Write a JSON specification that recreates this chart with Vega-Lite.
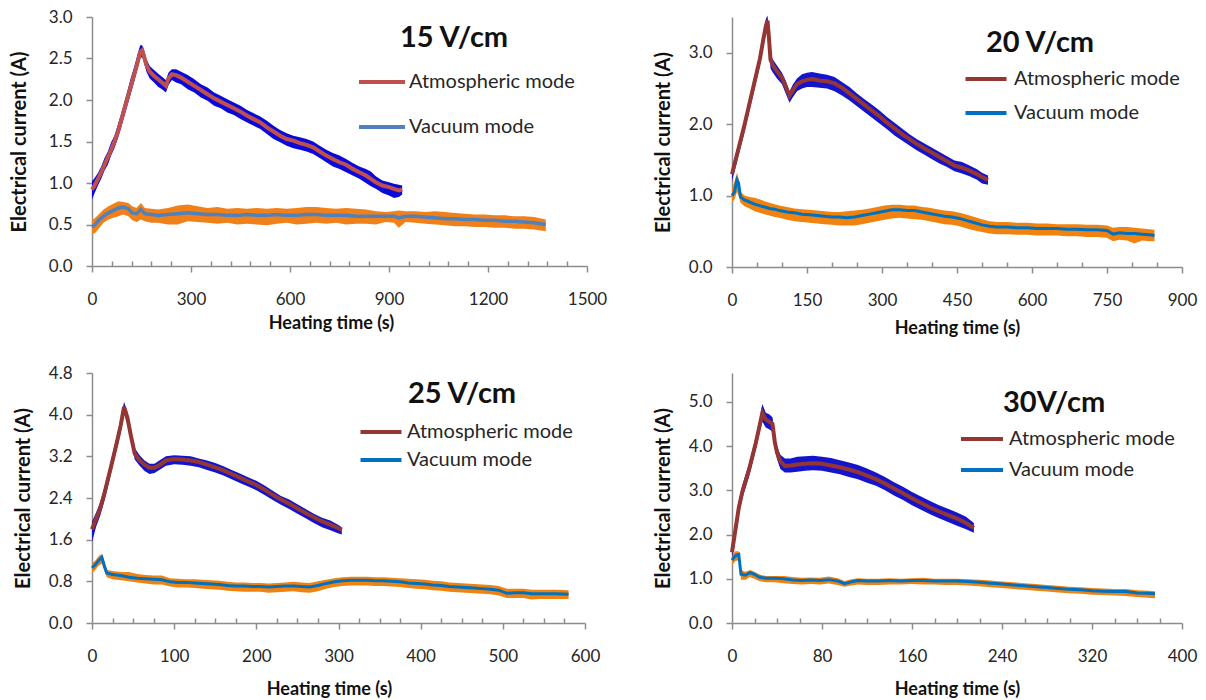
{
  "$schema": "https://vega.github.io/schema/vega-lite/v6.json",
  "background": "white",
  "padding": {"left": 9, "top": 8, "right": 5, "bottom": 0},
  "columns": 2,
  "spacing": {"row": 106, "column": 145},
  "bounds": "flush",
  "resolve": {
    "scale": {"x": "independent", "y": "independent", "color": "independent"},
    "axis": {"x": "independent", "y": "independent"},
    "legend": {"color": "independent"}
  },
  "datasets": {
    "a15": [
      {"t":0,"i":0.92,"lo":0.80,"hi":1.02},{"t":8,"i":0.97,"lo":0.88,"hi":1.06},{"t":18,"i":1.05,"lo":0.97,"hi":1.12},
      {"t":28,"i":1.13,"lo":1.05,"hi":1.20},{"t":38,"i":1.22,"lo":1.15,"hi":1.30},{"t":48,"i":1.31,"lo":1.22,"hi":1.38},
      {"t":58,"i":1.40,"lo":1.33,"hi":1.49},{"t":68,"i":1.50,"lo":1.42,"hi":1.57},{"t":78,"i":1.61,"lo":1.53,"hi":1.70},
      {"t":88,"i":1.75,"lo":1.66,"hi":1.83},{"t":98,"i":1.89,"lo":1.80,"hi":1.98},{"t":108,"i":2.03,"lo":1.94,"hi":2.12},
      {"t":118,"i":2.17,"lo":2.08,"hi":2.27},{"t":128,"i":2.31,"lo":2.22,"hi":2.40},{"t":138,"i":2.45,"lo":2.37,"hi":2.55},
      {"t":146,"i":2.58,"lo":2.50,"hi":2.66},{"t":152,"i":2.60,"lo":2.52,"hi":2.66},{"t":158,"i":2.52,"lo":2.44,"hi":2.60},
      {"t":165,"i":2.42,"lo":2.34,"hi":2.49},{"t":175,"i":2.34,"lo":2.26,"hi":2.41},{"t":188,"i":2.29,"lo":2.21,"hi":2.36},
      {"t":200,"i":2.25,"lo":2.16,"hi":2.32},{"t":212,"i":2.21,"lo":2.13,"hi":2.28},{"t":224,"i":2.17,"lo":2.09,"hi":2.24},
      {"t":232,"i":2.26,"lo":2.18,"hi":2.33},{"t":242,"i":2.31,"lo":2.24,"hi":2.37},{"t":255,"i":2.30,"lo":2.21,"hi":2.37},
      {"t":270,"i":2.27,"lo":2.19,"hi":2.34},{"t":290,"i":2.22,"lo":2.13,"hi":2.30},{"t":310,"i":2.17,"lo":2.09,"hi":2.25},
      {"t":330,"i":2.12,"lo":2.03,"hi":2.19},{"t":350,"i":2.07,"lo":1.99,"hi":2.15},{"t":370,"i":2.02,"lo":1.93,"hi":2.09},
      {"t":390,"i":1.98,"lo":1.90,"hi":2.05},{"t":410,"i":1.94,"lo":1.85,"hi":2.01},{"t":430,"i":1.90,"lo":1.82,"hi":1.97},
      {"t":450,"i":1.86,"lo":1.77,"hi":1.93},{"t":470,"i":1.81,"lo":1.73,"hi":1.88},{"t":490,"i":1.77,"lo":1.69,"hi":1.84},
      {"t":510,"i":1.73,"lo":1.65,"hi":1.80},{"t":530,"i":1.67,"lo":1.59,"hi":1.75},{"t":550,"i":1.62,"lo":1.53,"hi":1.69},
      {"t":570,"i":1.57,"lo":1.49,"hi":1.64},{"t":590,"i":1.53,"lo":1.45,"hi":1.60},{"t":610,"i":1.51,"lo":1.42,"hi":1.57},
      {"t":630,"i":1.48,"lo":1.40,"hi":1.55},{"t":650,"i":1.46,"lo":1.38,"hi":1.53},{"t":670,"i":1.43,"lo":1.35,"hi":1.50},
      {"t":690,"i":1.38,"lo":1.30,"hi":1.45},{"t":710,"i":1.33,"lo":1.25,"hi":1.40},{"t":730,"i":1.29,"lo":1.20,"hi":1.36},
      {"t":750,"i":1.25,"lo":1.17,"hi":1.33},{"t":770,"i":1.22,"lo":1.13,"hi":1.29},{"t":790,"i":1.17,"lo":1.09,"hi":1.24},
      {"t":810,"i":1.13,"lo":1.05,"hi":1.20},{"t":830,"i":1.09,"lo":1.00,"hi":1.17},{"t":845,"i":1.05,"lo":0.96,"hi":1.14},
      {"t":860,"i":1.01,"lo":0.93,"hi":1.08},{"t":880,"i":0.97,"lo":0.88,"hi":1.03},{"t":900,"i":0.95,"lo":0.85,"hi":1.01},
      {"t":915,"i":0.93,"lo":0.82,"hi":0.99},{"t":930,"i":0.91,"lo":0.83,"hi":0.98},{"t":940,"i":0.92,"lo":0.86,"hi":0.97}
    ],
    "v15": [
      {"t":0,"i":0.47,"lo":0.38,"hi":0.55},{"t":10,"i":0.50,"lo":0.40,"hi":0.58},{"t":20,"i":0.55,"lo":0.45,"hi":0.62},
      {"t":35,"i":0.60,"lo":0.52,"hi":0.68},{"t":50,"i":0.64,"lo":0.56,"hi":0.72},{"t":65,"i":0.67,"lo":0.58,"hi":0.75},
      {"t":80,"i":0.70,"lo":0.60,"hi":0.78},{"t":95,"i":0.71,"lo":0.62,"hi":0.77},{"t":110,"i":0.69,"lo":0.60,"hi":0.76},
      {"t":122,"i":0.64,"lo":0.55,"hi":0.72},{"t":135,"i":0.63,"lo":0.53,"hi":0.70},{"t":148,"i":0.68,"lo":0.56,"hi":0.76},
      {"t":160,"i":0.63,"lo":0.54,"hi":0.70},{"t":180,"i":0.62,"lo":0.52,"hi":0.69},{"t":200,"i":0.61,"lo":0.52,"hi":0.68},
      {"t":230,"i":0.62,"lo":0.50,"hi":0.70},{"t":260,"i":0.63,"lo":0.50,"hi":0.73},{"t":290,"i":0.64,"lo":0.54,"hi":0.74},
      {"t":320,"i":0.63,"lo":0.53,"hi":0.72},{"t":350,"i":0.62,"lo":0.52,"hi":0.70},{"t":380,"i":0.62,"lo":0.51,"hi":0.71},
      {"t":410,"i":0.61,"lo":0.52,"hi":0.69},{"t":440,"i":0.61,"lo":0.50,"hi":0.70},{"t":470,"i":0.62,"lo":0.51,"hi":0.69},
      {"t":500,"i":0.61,"lo":0.50,"hi":0.70},{"t":530,"i":0.61,"lo":0.49,"hi":0.69},{"t":560,"i":0.62,"lo":0.51,"hi":0.70},
      {"t":590,"i":0.61,"lo":0.52,"hi":0.69},{"t":620,"i":0.61,"lo":0.50,"hi":0.70},{"t":650,"i":0.62,"lo":0.51,"hi":0.71},
      {"t":680,"i":0.62,"lo":0.52,"hi":0.71},{"t":710,"i":0.61,"lo":0.51,"hi":0.70},{"t":740,"i":0.61,"lo":0.52,"hi":0.69},
      {"t":770,"i":0.61,"lo":0.50,"hi":0.70},{"t":800,"i":0.60,"lo":0.51,"hi":0.69},{"t":830,"i":0.60,"lo":0.51,"hi":0.68},
      {"t":860,"i":0.60,"lo":0.50,"hi":0.66},{"t":890,"i":0.60,"lo":0.53,"hi":0.65},{"t":915,"i":0.60,"lo":0.52,"hi":0.66},
      {"t":930,"i":0.58,"lo":0.46,"hi":0.67},{"t":950,"i":0.60,"lo":0.53,"hi":0.66},{"t":980,"i":0.60,"lo":0.52,"hi":0.66},
      {"t":1010,"i":0.59,"lo":0.51,"hi":0.65},{"t":1040,"i":0.58,"lo":0.50,"hi":0.66},{"t":1070,"i":0.57,"lo":0.49,"hi":0.65},
      {"t":1100,"i":0.57,"lo":0.48,"hi":0.64},{"t":1130,"i":0.56,"lo":0.48,"hi":0.63},{"t":1160,"i":0.56,"lo":0.47,"hi":0.62},
      {"t":1190,"i":0.55,"lo":0.47,"hi":0.62},{"t":1220,"i":0.55,"lo":0.46,"hi":0.61},{"t":1250,"i":0.54,"lo":0.46,"hi":0.61},
      {"t":1280,"i":0.54,"lo":0.45,"hi":0.60},{"t":1310,"i":0.53,"lo":0.45,"hi":0.60},{"t":1340,"i":0.52,"lo":0.44,"hi":0.59},
      {"t":1375,"i":0.50,"lo":0.42,"hi":0.56}
    ],
    "a20": [
      {"t":0,"i":1.30,"lo":1.20,"hi":1.40},{"t":8,"i":1.52,"lo":1.42,"hi":1.60},{"t":16,"i":1.74,"lo":1.64,"hi":1.82},
      {"t":24,"i":1.96,"lo":1.86,"hi":2.04},{"t":32,"i":2.20,"lo":2.10,"hi":2.28},{"t":40,"i":2.44,"lo":2.34,"hi":2.52},
      {"t":48,"i":2.68,"lo":2.58,"hi":2.76},{"t":56,"i":2.92,"lo":2.82,"hi":3.00},{"t":63,"i":3.20,"lo":3.10,"hi":3.28},
      {"t":68,"i":3.38,"lo":3.28,"hi":3.48},{"t":71,"i":3.45,"lo":3.36,"hi":3.52},{"t":74,"i":3.20,"lo":3.05,"hi":3.30},
      {"t":77,"i":2.90,"lo":2.78,"hi":2.98},{"t":82,"i":2.82,"lo":2.72,"hi":2.90},{"t":90,"i":2.74,"lo":2.64,"hi":2.82},
      {"t":100,"i":2.65,"lo":2.56,"hi":2.72},{"t":108,"i":2.52,"lo":2.42,"hi":2.60},{"t":115,"i":2.40,"lo":2.30,"hi":2.46},
      {"t":122,"i":2.48,"lo":2.38,"hi":2.56},{"t":130,"i":2.56,"lo":2.46,"hi":2.64},{"t":140,"i":2.60,"lo":2.50,"hi":2.70},
      {"t":150,"i":2.62,"lo":2.52,"hi":2.72},{"t":160,"i":2.63,"lo":2.52,"hi":2.73},{"t":175,"i":2.61,"lo":2.51,"hi":2.71},
      {"t":190,"i":2.60,"lo":2.50,"hi":2.69},{"t":205,"i":2.57,"lo":2.46,"hi":2.66},{"t":220,"i":2.51,"lo":2.40,"hi":2.59},
      {"t":235,"i":2.43,"lo":2.33,"hi":2.52},{"t":250,"i":2.35,"lo":2.25,"hi":2.43},{"t":265,"i":2.27,"lo":2.17,"hi":2.35},
      {"t":280,"i":2.19,"lo":2.09,"hi":2.27},{"t":295,"i":2.11,"lo":2.01,"hi":2.19},{"t":310,"i":2.02,"lo":1.93,"hi":2.10},
      {"t":325,"i":1.94,"lo":1.84,"hi":2.02},{"t":340,"i":1.86,"lo":1.77,"hi":1.94},{"t":355,"i":1.79,"lo":1.70,"hi":1.86},
      {"t":370,"i":1.72,"lo":1.63,"hi":1.79},{"t":385,"i":1.66,"lo":1.57,"hi":1.73},{"t":400,"i":1.60,"lo":1.51,"hi":1.67},
      {"t":415,"i":1.54,"lo":1.45,"hi":1.61},{"t":430,"i":1.48,"lo":1.40,"hi":1.55},{"t":445,"i":1.42,"lo":1.34,"hi":1.49},
      {"t":460,"i":1.39,"lo":1.31,"hi":1.47},{"t":475,"i":1.35,"lo":1.27,"hi":1.42},{"t":490,"i":1.30,"lo":1.22,"hi":1.37},
      {"t":500,"i":1.26,"lo":1.17,"hi":1.32},{"t":512,"i":1.22,"lo":1.15,"hi":1.28}
    ],
    "v20": [
      {"t":0,"i":1.00,"lo":0.90,"hi":1.10},{"t":5,"i":1.05,"lo":0.95,"hi":1.20},{"t":10,"i":1.22,"lo":1.05,"hi":1.32},
      {"t":13,"i":1.18,"lo":1.00,"hi":1.25},{"t":17,"i":0.98,"lo":0.90,"hi":1.05},{"t":25,"i":0.94,"lo":0.85,"hi":1.00},
      {"t":35,"i":0.91,"lo":0.82,"hi":0.98},{"t":45,"i":0.88,"lo":0.78,"hi":0.97},{"t":55,"i":0.86,"lo":0.76,"hi":0.95},
      {"t":65,"i":0.84,"lo":0.74,"hi":0.92},{"t":75,"i":0.82,"lo":0.72,"hi":0.90},{"t":85,"i":0.81,"lo":0.70,"hi":0.88},
      {"t":95,"i":0.79,"lo":0.69,"hi":0.86},{"t":110,"i":0.77,"lo":0.66,"hi":0.84},{"t":125,"i":0.76,"lo":0.64,"hi":0.82},
      {"t":140,"i":0.74,"lo":0.63,"hi":0.81},{"t":155,"i":0.73,"lo":0.62,"hi":0.80},{"t":170,"i":0.72,"lo":0.61,"hi":0.79},
      {"t":185,"i":0.71,"lo":0.60,"hi":0.78},{"t":200,"i":0.70,"lo":0.59,"hi":0.77},{"t":215,"i":0.70,"lo":0.58,"hi":0.77},
      {"t":230,"i":0.69,"lo":0.58,"hi":0.78},{"t":245,"i":0.70,"lo":0.58,"hi":0.79},{"t":260,"i":0.72,"lo":0.60,"hi":0.80},
      {"t":275,"i":0.74,"lo":0.62,"hi":0.82},{"t":290,"i":0.76,"lo":0.64,"hi":0.84},{"t":305,"i":0.78,"lo":0.66,"hi":0.86},
      {"t":320,"i":0.80,"lo":0.68,"hi":0.87},{"t":335,"i":0.80,"lo":0.69,"hi":0.87},{"t":350,"i":0.79,"lo":0.68,"hi":0.86},
      {"t":365,"i":0.79,"lo":0.67,"hi":0.86},{"t":380,"i":0.77,"lo":0.66,"hi":0.84},{"t":395,"i":0.75,"lo":0.64,"hi":0.83},
      {"t":410,"i":0.73,"lo":0.62,"hi":0.81},{"t":425,"i":0.71,"lo":0.60,"hi":0.79},{"t":440,"i":0.70,"lo":0.59,"hi":0.78},
      {"t":455,"i":0.68,"lo":0.57,"hi":0.76},{"t":470,"i":0.65,"lo":0.54,"hi":0.73},{"t":485,"i":0.62,"lo":0.51,"hi":0.70},
      {"t":500,"i":0.59,"lo":0.49,"hi":0.67},{"t":515,"i":0.57,"lo":0.47,"hi":0.64},{"t":530,"i":0.56,"lo":0.46,"hi":0.63},
      {"t":550,"i":0.56,"lo":0.46,"hi":0.63},{"t":570,"i":0.55,"lo":0.45,"hi":0.62},{"t":590,"i":0.55,"lo":0.45,"hi":0.62},
      {"t":610,"i":0.54,"lo":0.44,"hi":0.61},{"t":630,"i":0.54,"lo":0.44,"hi":0.61},{"t":650,"i":0.54,"lo":0.44,"hi":0.60},
      {"t":670,"i":0.53,"lo":0.43,"hi":0.60},{"t":690,"i":0.53,"lo":0.43,"hi":0.60},{"t":710,"i":0.52,"lo":0.42,"hi":0.59},
      {"t":730,"i":0.52,"lo":0.42,"hi":0.59},{"t":750,"i":0.51,"lo":0.41,"hi":0.58},{"t":762,"i":0.46,"lo":0.36,"hi":0.55},
      {"t":775,"i":0.48,"lo":0.38,"hi":0.56},{"t":790,"i":0.47,"lo":0.37,"hi":0.56},{"t":805,"i":0.47,"lo":0.33,"hi":0.55},
      {"t":820,"i":0.46,"lo":0.37,"hi":0.54},{"t":835,"i":0.45,"lo":0.36,"hi":0.53},{"t":845,"i":0.44,"lo":0.36,"hi":0.52}
    ],
    "a25": [
      {"t":0,"i":1.80,"lo":1.55,"hi":1.95},{"t":5,"i":2.00,"lo":1.85,"hi":2.12},{"t":10,"i":2.20,"lo":2.06,"hi":2.32},
      {"t":15,"i":2.48,"lo":2.34,"hi":2.60},{"t":20,"i":2.80,"lo":2.66,"hi":2.92},{"t":25,"i":3.12,"lo":3.00,"hi":3.25},
      {"t":30,"i":3.45,"lo":3.32,"hi":3.58},{"t":35,"i":3.80,"lo":3.66,"hi":3.92},{"t":39,"i":4.15,"lo":4.02,"hi":4.25},
      {"t":43,"i":3.95,"lo":3.82,"hi":4.05},{"t":47,"i":3.62,"lo":3.50,"hi":3.74},{"t":52,"i":3.25,"lo":3.14,"hi":3.36},
      {"t":58,"i":3.12,"lo":3.02,"hi":3.22},{"t":64,"i":3.04,"lo":2.92,"hi":3.12},{"t":70,"i":2.98,"lo":2.86,"hi":3.06},
      {"t":76,"i":2.98,"lo":2.88,"hi":3.06},{"t":82,"i":3.03,"lo":2.94,"hi":3.12},{"t":90,"i":3.12,"lo":3.02,"hi":3.20},
      {"t":100,"i":3.15,"lo":3.05,"hi":3.22},{"t":110,"i":3.14,"lo":3.04,"hi":3.21},{"t":120,"i":3.12,"lo":3.02,"hi":3.20},
      {"t":130,"i":3.09,"lo":2.99,"hi":3.16},{"t":140,"i":3.04,"lo":2.94,"hi":3.12},{"t":150,"i":2.99,"lo":2.89,"hi":3.07},
      {"t":160,"i":2.93,"lo":2.83,"hi":3.01},{"t":170,"i":2.86,"lo":2.76,"hi":2.94},{"t":180,"i":2.79,"lo":2.69,"hi":2.87},
      {"t":190,"i":2.72,"lo":2.62,"hi":2.80},{"t":200,"i":2.65,"lo":2.55,"hi":2.73},{"t":210,"i":2.56,"lo":2.46,"hi":2.64},
      {"t":220,"i":2.46,"lo":2.36,"hi":2.54},{"t":230,"i":2.37,"lo":2.27,"hi":2.44},{"t":240,"i":2.29,"lo":2.19,"hi":2.37},
      {"t":250,"i":2.20,"lo":2.10,"hi":2.28},{"t":260,"i":2.11,"lo":2.01,"hi":2.19},{"t":270,"i":2.03,"lo":1.92,"hi":2.10},
      {"t":280,"i":1.95,"lo":1.84,"hi":2.02},{"t":290,"i":1.89,"lo":1.78,"hi":1.97},{"t":300,"i":1.82,"lo":1.72,"hi":1.88},
      {"t":304,"i":1.79,"lo":1.70,"hi":1.84}
    ],
    "v25": [
      {"t":0,"i":1.06,"lo":0.96,"hi":1.14},{"t":4,"i":1.12,"lo":1.02,"hi":1.20},{"t":8,"i":1.20,"lo":1.10,"hi":1.28},
      {"t":12,"i":1.26,"lo":1.14,"hi":1.33},{"t":15,"i":1.10,"lo":1.00,"hi":1.18},{"t":18,"i":0.96,"lo":0.88,"hi":1.02},
      {"t":25,"i":0.93,"lo":0.84,"hi":1.00},{"t":35,"i":0.91,"lo":0.82,"hi":0.98},{"t":45,"i":0.88,"lo":0.80,"hi":0.98},
      {"t":55,"i":0.86,"lo":0.78,"hi":0.94},{"t":65,"i":0.85,"lo":0.76,"hi":0.92},{"t":75,"i":0.84,"lo":0.74,"hi":0.91},
      {"t":85,"i":0.83,"lo":0.74,"hi":0.91},{"t":95,"i":0.79,"lo":0.70,"hi":0.86},{"t":105,"i":0.78,"lo":0.68,"hi":0.85},
      {"t":115,"i":0.78,"lo":0.68,"hi":0.84},{"t":125,"i":0.77,"lo":0.67,"hi":0.84},{"t":135,"i":0.76,"lo":0.66,"hi":0.83},
      {"t":145,"i":0.75,"lo":0.65,"hi":0.82},{"t":155,"i":0.74,"lo":0.64,"hi":0.81},{"t":165,"i":0.72,"lo":0.62,"hi":0.79},
      {"t":175,"i":0.71,"lo":0.61,"hi":0.78},{"t":185,"i":0.71,"lo":0.60,"hi":0.78},{"t":195,"i":0.70,"lo":0.60,"hi":0.77},
      {"t":205,"i":0.70,"lo":0.60,"hi":0.77},{"t":215,"i":0.69,"lo":0.58,"hi":0.76},{"t":225,"i":0.70,"lo":0.59,"hi":0.77},
      {"t":235,"i":0.71,"lo":0.60,"hi":0.78},{"t":245,"i":0.71,"lo":0.61,"hi":0.79},{"t":255,"i":0.70,"lo":0.59,"hi":0.78},
      {"t":265,"i":0.69,"lo":0.58,"hi":0.77},{"t":275,"i":0.72,"lo":0.61,"hi":0.80},{"t":285,"i":0.76,"lo":0.66,"hi":0.83},
      {"t":295,"i":0.79,"lo":0.69,"hi":0.86},{"t":305,"i":0.81,"lo":0.71,"hi":0.88},{"t":315,"i":0.82,"lo":0.72,"hi":0.89},
      {"t":325,"i":0.82,"lo":0.72,"hi":0.89},{"t":335,"i":0.82,"lo":0.72,"hi":0.89},{"t":345,"i":0.81,"lo":0.71,"hi":0.88},
      {"t":355,"i":0.81,"lo":0.71,"hi":0.88},{"t":365,"i":0.80,"lo":0.70,"hi":0.87},{"t":375,"i":0.79,"lo":0.69,"hi":0.86},
      {"t":385,"i":0.77,"lo":0.67,"hi":0.85},{"t":395,"i":0.76,"lo":0.66,"hi":0.84},{"t":405,"i":0.75,"lo":0.65,"hi":0.83},
      {"t":415,"i":0.73,"lo":0.63,"hi":0.81},{"t":425,"i":0.72,"lo":0.62,"hi":0.80},{"t":435,"i":0.70,"lo":0.60,"hi":0.78},
      {"t":445,"i":0.69,"lo":0.59,"hi":0.77},{"t":455,"i":0.68,"lo":0.58,"hi":0.76},{"t":465,"i":0.67,"lo":0.57,"hi":0.75},
      {"t":475,"i":0.66,"lo":0.56,"hi":0.74},{"t":485,"i":0.65,"lo":0.55,"hi":0.73},{"t":495,"i":0.63,"lo":0.53,"hi":0.71},
      {"t":505,"i":0.57,"lo":0.48,"hi":0.66},{"t":515,"i":0.58,"lo":0.48,"hi":0.66},{"t":525,"i":0.58,"lo":0.48,"hi":0.66},
      {"t":535,"i":0.56,"lo":0.45,"hi":0.64},{"t":545,"i":0.56,"lo":0.46,"hi":0.64},{"t":555,"i":0.56,"lo":0.46,"hi":0.64},
      {"t":565,"i":0.56,"lo":0.46,"hi":0.64},{"t":580,"i":0.55,"lo":0.46,"hi":0.63}
    ],
    "a30": [
      {"t":0,"i":1.60,"lo":1.45,"hi":1.75},{"t":3,"i":2.10,"lo":1.95,"hi":2.25},{"t":6,"i":2.60,"lo":2.45,"hi":2.75},
      {"t":9,"i":2.95,"lo":2.80,"hi":3.10},{"t":12,"i":3.20,"lo":3.05,"hi":3.35},{"t":15,"i":3.45,"lo":3.30,"hi":3.60},
      {"t":18,"i":3.75,"lo":3.60,"hi":3.90},{"t":21,"i":4.05,"lo":3.90,"hi":4.20},{"t":24,"i":4.40,"lo":4.25,"hi":4.55},
      {"t":27,"i":4.75,"lo":4.55,"hi":4.95},{"t":30,"i":4.60,"lo":4.42,"hi":4.75},{"t":33,"i":4.55,"lo":4.38,"hi":4.72},
      {"t":36,"i":4.50,"lo":4.32,"hi":4.65},{"t":38,"i":4.10,"lo":3.95,"hi":4.25},{"t":40,"i":3.85,"lo":3.70,"hi":4.00},
      {"t":43,"i":3.65,"lo":3.48,"hi":3.80},{"t":47,"i":3.55,"lo":3.40,"hi":3.72},{"t":52,"i":3.56,"lo":3.40,"hi":3.72},
      {"t":58,"i":3.58,"lo":3.42,"hi":3.76},{"t":65,"i":3.60,"lo":3.44,"hi":3.77},{"t":72,"i":3.61,"lo":3.45,"hi":3.78},
      {"t":80,"i":3.60,"lo":3.44,"hi":3.76},{"t":88,"i":3.56,"lo":3.40,"hi":3.73},{"t":96,"i":3.52,"lo":3.36,"hi":3.68},
      {"t":104,"i":3.47,"lo":3.30,"hi":3.63},{"t":112,"i":3.41,"lo":3.25,"hi":3.57},{"t":120,"i":3.33,"lo":3.17,"hi":3.49},
      {"t":128,"i":3.25,"lo":3.10,"hi":3.40},{"t":136,"i":3.15,"lo":3.00,"hi":3.30},{"t":144,"i":3.04,"lo":2.88,"hi":3.18},
      {"t":152,"i":2.93,"lo":2.78,"hi":3.08},{"t":160,"i":2.82,"lo":2.66,"hi":2.96},{"t":168,"i":2.71,"lo":2.56,"hi":2.86},
      {"t":176,"i":2.61,"lo":2.46,"hi":2.76},{"t":184,"i":2.52,"lo":2.37,"hi":2.66},{"t":192,"i":2.44,"lo":2.28,"hi":2.58},
      {"t":200,"i":2.36,"lo":2.20,"hi":2.50},{"t":208,"i":2.26,"lo":2.12,"hi":2.40},{"t":215,"i":2.15,"lo":2.04,"hi":2.26}
    ],
    "v30": [
      {"t":0,"i":1.42,"lo":1.30,"hi":1.55},{"t":3,"i":1.52,"lo":1.40,"hi":1.62},{"t":6,"i":1.55,"lo":1.42,"hi":1.62},
      {"t":8,"i":1.10,"lo":0.98,"hi":1.20},{"t":12,"i":1.08,"lo":0.98,"hi":1.16},{"t":16,"i":1.14,"lo":1.04,"hi":1.20},
      {"t":20,"i":1.10,"lo":1.00,"hi":1.16},{"t":24,"i":1.04,"lo":0.95,"hi":1.10},{"t":30,"i":1.01,"lo":0.92,"hi":1.06},
      {"t":38,"i":1.01,"lo":0.92,"hi":1.06},{"t":46,"i":1.00,"lo":0.90,"hi":1.06},{"t":54,"i":0.97,"lo":0.88,"hi":1.04},
      {"t":62,"i":0.96,"lo":0.87,"hi":1.02},{"t":70,"i":0.97,"lo":0.88,"hi":1.03},{"t":78,"i":0.96,"lo":0.87,"hi":1.02},
      {"t":86,"i":0.98,"lo":0.89,"hi":1.05},{"t":94,"i":0.95,"lo":0.86,"hi":1.01},{"t":100,"i":0.89,"lo":0.82,"hi":0.95},
      {"t":106,"i":0.93,"lo":0.85,"hi":0.99},{"t":112,"i":0.96,"lo":0.87,"hi":1.01},{"t":120,"i":0.95,"lo":0.86,"hi":1.00},
      {"t":130,"i":0.95,"lo":0.86,"hi":1.00},{"t":140,"i":0.96,"lo":0.87,"hi":1.01},{"t":150,"i":0.95,"lo":0.87,"hi":1.00},
      {"t":160,"i":0.96,"lo":0.88,"hi":1.01},{"t":170,"i":0.96,"lo":0.87,"hi":1.02},{"t":180,"i":0.95,"lo":0.87,"hi":1.00},
      {"t":190,"i":0.95,"lo":0.86,"hi":1.00},{"t":200,"i":0.95,"lo":0.86,"hi":1.00},{"t":210,"i":0.94,"lo":0.85,"hi":0.99},
      {"t":220,"i":0.92,"lo":0.83,"hi":0.98},{"t":230,"i":0.90,"lo":0.81,"hi":0.96},{"t":240,"i":0.88,"lo":0.79,"hi":0.94},
      {"t":250,"i":0.86,"lo":0.77,"hi":0.92},{"t":260,"i":0.84,"lo":0.75,"hi":0.90},{"t":270,"i":0.82,"lo":0.73,"hi":0.88},
      {"t":280,"i":0.80,"lo":0.71,"hi":0.86},{"t":290,"i":0.78,"lo":0.69,"hi":0.84},{"t":300,"i":0.76,"lo":0.67,"hi":0.82},
      {"t":310,"i":0.75,"lo":0.66,"hi":0.81},{"t":320,"i":0.73,"lo":0.64,"hi":0.79},{"t":330,"i":0.72,"lo":0.63,"hi":0.78},
      {"t":340,"i":0.71,"lo":0.62,"hi":0.77},{"t":350,"i":0.71,"lo":0.61,"hi":0.77},{"t":360,"i":0.68,"lo":0.59,"hi":0.74},
      {"t":370,"i":0.67,"lo":0.57,"hi":0.73},{"t":376,"i":0.66,"lo":0.56,"hi":0.72}
    ]
  },
  "concat": [
    {
      "title": {"text": "15 V/cm", "dx": 308},
      "width": 495, "height": 249,
      "encoding": {
        "x": {"field": "t", "type": "quantitative", "scale": {"domain": [0, 1500], "nice": false},
          "axis": {"title": "Heating time (s)", "titleX": 239, "format": "d", "labelOverlap": false,
            "values": [0,60,120,180,240,300,360,420,480,540,600,660,720,780,840,900,960,1020,1080,1140,1200,1260,1320,1380,1440,1500],
            "labelExpr": "datum.value % 300 === 0 ? datum.label : ''",
            "tickSize": {"condition": {"test": "datum.value % 300 === 0", "value": 6}, "value": -5},
            "labelPadding": 19, "titlePadding": 7}}
      },
      "layer": [
        {"data": {"name": "v15"}, "mark": {"type": "area", "color": "#F0801A"},
          "encoding": {"y": {"field": "lo", "type": "quantitative", "scale": {"domain": [0, 3], "nice": false}, "axis": {"labelOverlap": false}}, "y2": {"field": "hi"}}},
        {"data": {"name": "a15"}, "mark": {"type": "area", "color": "#0A0AD8"},
          "encoding": {"y": {"field": "lo", "type": "quantitative", "scale": {"domain": [0, 3], "nice": false}, "axis": {"labelOverlap": false}}, "y2": {"field": "hi"}}},
        {"data": {"name": "v15"}, "mark": {"type": "line", "strokeWidth": 3.5},
          "encoding": {
            "y": {"field": "i", "type": "quantitative", "scale": {"domain": [0, 3], "nice": false},
              "axis": {"title": "Electrical current (A)", "format": ".1f", "titleFontSize": 20, "labelOverlap": false,
                "values": [0,0.25,0.5,0.75,1,1.25,1.5,1.75,2,2.25,2.5,2.75,3],
                "labelExpr": "abs(datum.value*2 - round(datum.value*2)) < 0.001 ? datum.label : ''",
                "tickSize": {"condition": {"test": "abs(datum.value*2 - round(datum.value*2)) < 0.001", "value": 6}, "value": -5},
                "labelPadding": 14, "titlePadding": 19}},
            "color": {"datum": "Vacuum mode", "scale": {"domain": ["Atmospheric mode", "Vacuum mode"], "range": ["#C0504D", "#4F81BD"]},
              "legend": {"title": null, "orient": "none", "legendX": 280, "legendY": 55, "rowPadding": 25,
                "symbolType": "M-4.6,0H4.6", "symbolSize": 100, "symbolStrokeWidth": 4, "labelOffset": 17}}}},
        {"data": {"name": "a15"}, "mark": {"type": "line", "strokeWidth": 4},
          "encoding": {"y": {"field": "i", "type": "quantitative", "scale": {"domain": [0, 3], "nice": false}, "axis": {"labelOverlap": false}},
            "color": {"datum": "Atmospheric mode"}}}
      ]
    },
    {
      "title": {"text": "20 V/cm", "dx": 254},
      "width": 450, "height": 250,
      "encoding": {
        "x": {"field": "t", "type": "quantitative", "scale": {"domain": [0, 900], "nice": false},
          "axis": {"title": "Heating time (s)", "format": "d", "labelOverlap": false,
            "values": [0,50,100,150,200,250,300,350,400,450,500,550,600,650,700,750,800,850,900],
            "labelExpr": "datum.value % 150 === 0 ? datum.label : ''",
            "tickSize": {"condition": {"test": "datum.value % 150 === 0", "value": 6}, "value": -5},
            "labelPadding": 19, "titlePadding": 11}}
      },
      "layer": [
        {"data": {"name": "v20"}, "mark": {"type": "area", "color": "#F0820F"},
          "encoding": {"y": {"field": "lo", "type": "quantitative", "scale": {"domain": [0, 3.5], "nice": false}, "axis": {"labelOverlap": false}}, "y2": {"field": "hi"}}},
        {"data": {"name": "a20"}, "mark": {"type": "area", "color": "#1414CC"},
          "encoding": {"y": {"field": "lo", "type": "quantitative", "scale": {"domain": [0, 3.5], "nice": false}, "axis": {"labelOverlap": false}}, "y2": {"field": "hi"}}},
        {"data": {"name": "v20"}, "mark": {"type": "line", "strokeWidth": 3},
          "encoding": {
            "y": {"field": "i", "type": "quantitative", "scale": {"domain": [0, 3.5], "nice": false},
              "axis": {"title": "Electrical current (A)", "format": ".1f", "titleFontSize": 20, "labelOverlap": false,
                "values": [0,0.5,1,1.5,2,2.5,3,3.5],
                "tickSize": 6,
                "labelPadding": 14, "titlePadding": 15}},
            "color": {"datum": "Vacuum mode", "scale": {"domain": ["Atmospheric mode", "Vacuum mode"], "range": ["#943634", "#0070C0"]},
              "legend": {"title": null, "orient": "none", "legendX": 244, "legendY": 52, "rowPadding": 14,
                "symbolType": "M-4.1,0H4.1", "symbolSize": 100, "symbolStrokeWidth": 4, "labelOffset": 18}}}},
        {"data": {"name": "a20"}, "mark": {"type": "line", "strokeWidth": 4},
          "encoding": {"y": {"field": "i", "type": "quantitative", "scale": {"domain": [0, 3.5], "nice": false}, "axis": {"labelOverlap": false}},
            "color": {"datum": "Atmospheric mode"}}}
      ]
    },
    {
      "title": {"text": "25 V/cm", "dx": 316},
      "width": 493, "height": 250,
      "encoding": {
        "x": {"field": "t", "type": "quantitative", "scale": {"domain": [0, 600], "nice": false},
          "axis": {"title": "Heating time (s)", "titleX": 237, "format": "d", "labelOverlap": false,
            "values": [0,25,50,75,100,125,150,175,200,225,250,275,300,325,350,375,400,425,450,475,500,525,550,575,600],
            "labelExpr": "datum.value % 100 === 0 ? datum.label : ''",
            "tickSize": {"condition": {"test": "datum.value % 100 === 0", "value": 6}, "value": -5},
            "labelPadding": 19, "titlePadding": 16}}
      },
      "layer": [
        {"data": {"name": "v25"}, "mark": {"type": "area", "color": "#F0820F"},
          "encoding": {"y": {"field": "lo", "type": "quantitative", "scale": {"domain": [0, 4.8], "nice": false}, "axis": {"labelOverlap": false}}, "y2": {"field": "hi"}}},
        {"data": {"name": "a25"}, "mark": {"type": "area", "color": "#1414CC"},
          "encoding": {"y": {"field": "lo", "type": "quantitative", "scale": {"domain": [0, 4.8], "nice": false}, "axis": {"labelOverlap": false}}, "y2": {"field": "hi"}}},
        {"data": {"name": "v25"}, "mark": {"type": "line", "strokeWidth": 3},
          "encoding": {
            "y": {"field": "i", "type": "quantitative", "scale": {"domain": [0, 4.8], "nice": false},
              "axis": {"title": "Electrical current (A)", "format": ".1f", "titleFontSize": 20, "labelOverlap": false,
                "values": [0,0.4,0.8,1.2,1.6,2,2.4,2.8,3.2,3.6,4,4.4,4.8],
                "labelExpr": "abs(datum.value/0.8 - round(datum.value/0.8)) < 0.001 ? datum.label : ''",
                "tickSize": {"condition": {"test": "abs(datum.value/0.8 - round(datum.value/0.8)) < 0.001", "value": 6}, "value": -5},
                "labelPadding": 14, "titlePadding": 15}},
            "color": {"datum": "Vacuum mode", "scale": {"domain": ["Atmospheric mode", "Vacuum mode"], "range": ["#943634", "#0070C0"]},
              "legend": {"title": null, "orient": "none", "legendX": 279, "legendY": 49, "rowPadding": 8,
                "symbolType": "M-4.1,0H4.1", "symbolSize": 100, "symbolStrokeWidth": 4, "labelOffset": 16}}}},
        {"data": {"name": "a25"}, "mark": {"type": "line", "strokeWidth": 4},
          "encoding": {"y": {"field": "i", "type": "quantitative", "scale": {"domain": [0, 4.8], "nice": false}, "axis": {"labelOverlap": false}},
            "color": {"datum": "Atmospheric mode"}}}
      ]
    },
    {
      "title": {"text": "30V/cm", "dx": 271},
      "width": 450, "height": 250,
      "encoding": {
        "x": {"field": "t", "type": "quantitative", "scale": {"domain": [0, 400], "nice": false},
          "axis": {"title": "Heating time (s)", "format": "d", "labelOverlap": false,
            "values": [0,20,40,60,80,100,120,140,160,180,200,220,240,260,280,300,320,340,360,380,400],
            "labelExpr": "datum.value % 80 === 0 ? datum.label : ''",
            "tickSize": {"condition": {"test": "datum.value % 80 === 0", "value": 6}, "value": -5},
            "labelPadding": 19, "titlePadding": 16}}
      },
      "layer": [
        {"data": {"name": "v30"}, "mark": {"type": "area", "color": "#F0820F"},
          "encoding": {"y": {"field": "lo", "type": "quantitative", "scale": {"domain": [0, 5.65], "nice": false}, "axis": {"labelOverlap": false}}, "y2": {"field": "hi"}}},
        {"data": {"name": "a30"}, "mark": {"type": "area", "color": "#1414CC"},
          "encoding": {"y": {"field": "lo", "type": "quantitative", "scale": {"domain": [0, 5.65], "nice": false}, "axis": {"labelOverlap": false}}, "y2": {"field": "hi"}}},
        {"data": {"name": "v30"}, "mark": {"type": "line", "strokeWidth": 3},
          "encoding": {
            "y": {"field": "i", "type": "quantitative", "scale": {"domain": [0, 5.65], "nice": false},
              "axis": {"title": "Electrical current (A)", "format": ".1f", "titleFontSize": 20, "labelOverlap": false,
                "values": [0,1,2,3,4,5],
                "tickSize": 6,
                "labelPadding": 14, "titlePadding": 15}},
            "color": {"datum": "Vacuum mode", "scale": {"domain": ["Atmospheric mode", "Vacuum mode"], "range": ["#943634", "#0070C0"]},
              "legend": {"title": null, "orient": "none", "legendX": 240, "legendY": 56, "rowPadding": 11,
                "symbolType": "M-4.2,0H4.2", "symbolSize": 100, "symbolStrokeWidth": 4, "labelOffset": 17}}}},
        {"data": {"name": "a30"}, "mark": {"type": "line", "strokeWidth": 4},
          "encoding": {"y": {"field": "i", "type": "quantitative", "scale": {"domain": [0, 5.65], "nice": false}, "axis": {"labelOverlap": false}},
            "color": {"datum": "Atmospheric mode"}}}
      ]
    }
  ],
  "config": {
    "font": "Lato",
    "view": {"stroke": null},
    "title": {
      "orient": "top", "anchor": "start", "frame": "group", "offset": -45,
      "font": "Lato", "fontSize": 29, "fontWeight": "bold", "color": "#111111"
    },
    "axis": {
      "grid": false,
      "domainColor": "#8c8c8c", "domainWidth": 1.5,
      "tickColor": "#8c8c8c", "tickWidth": 1.5,
      "labelFont": "Lato", "labelFontSize": 17, "labelColor": "#262626",
      "labelFlush": false, "labelOverlap": false,
      "titleFont": "Lato", "titleFontSize": 18, "titleFontWeight": "bold", "titleColor": "#111111"
    },
    "legend": {
      "padding": 0, "labelLimit": 400,
      "labelFont": "Lato", "labelFontSize": 20, "labelColor": "#262626"
    }
  }
}
